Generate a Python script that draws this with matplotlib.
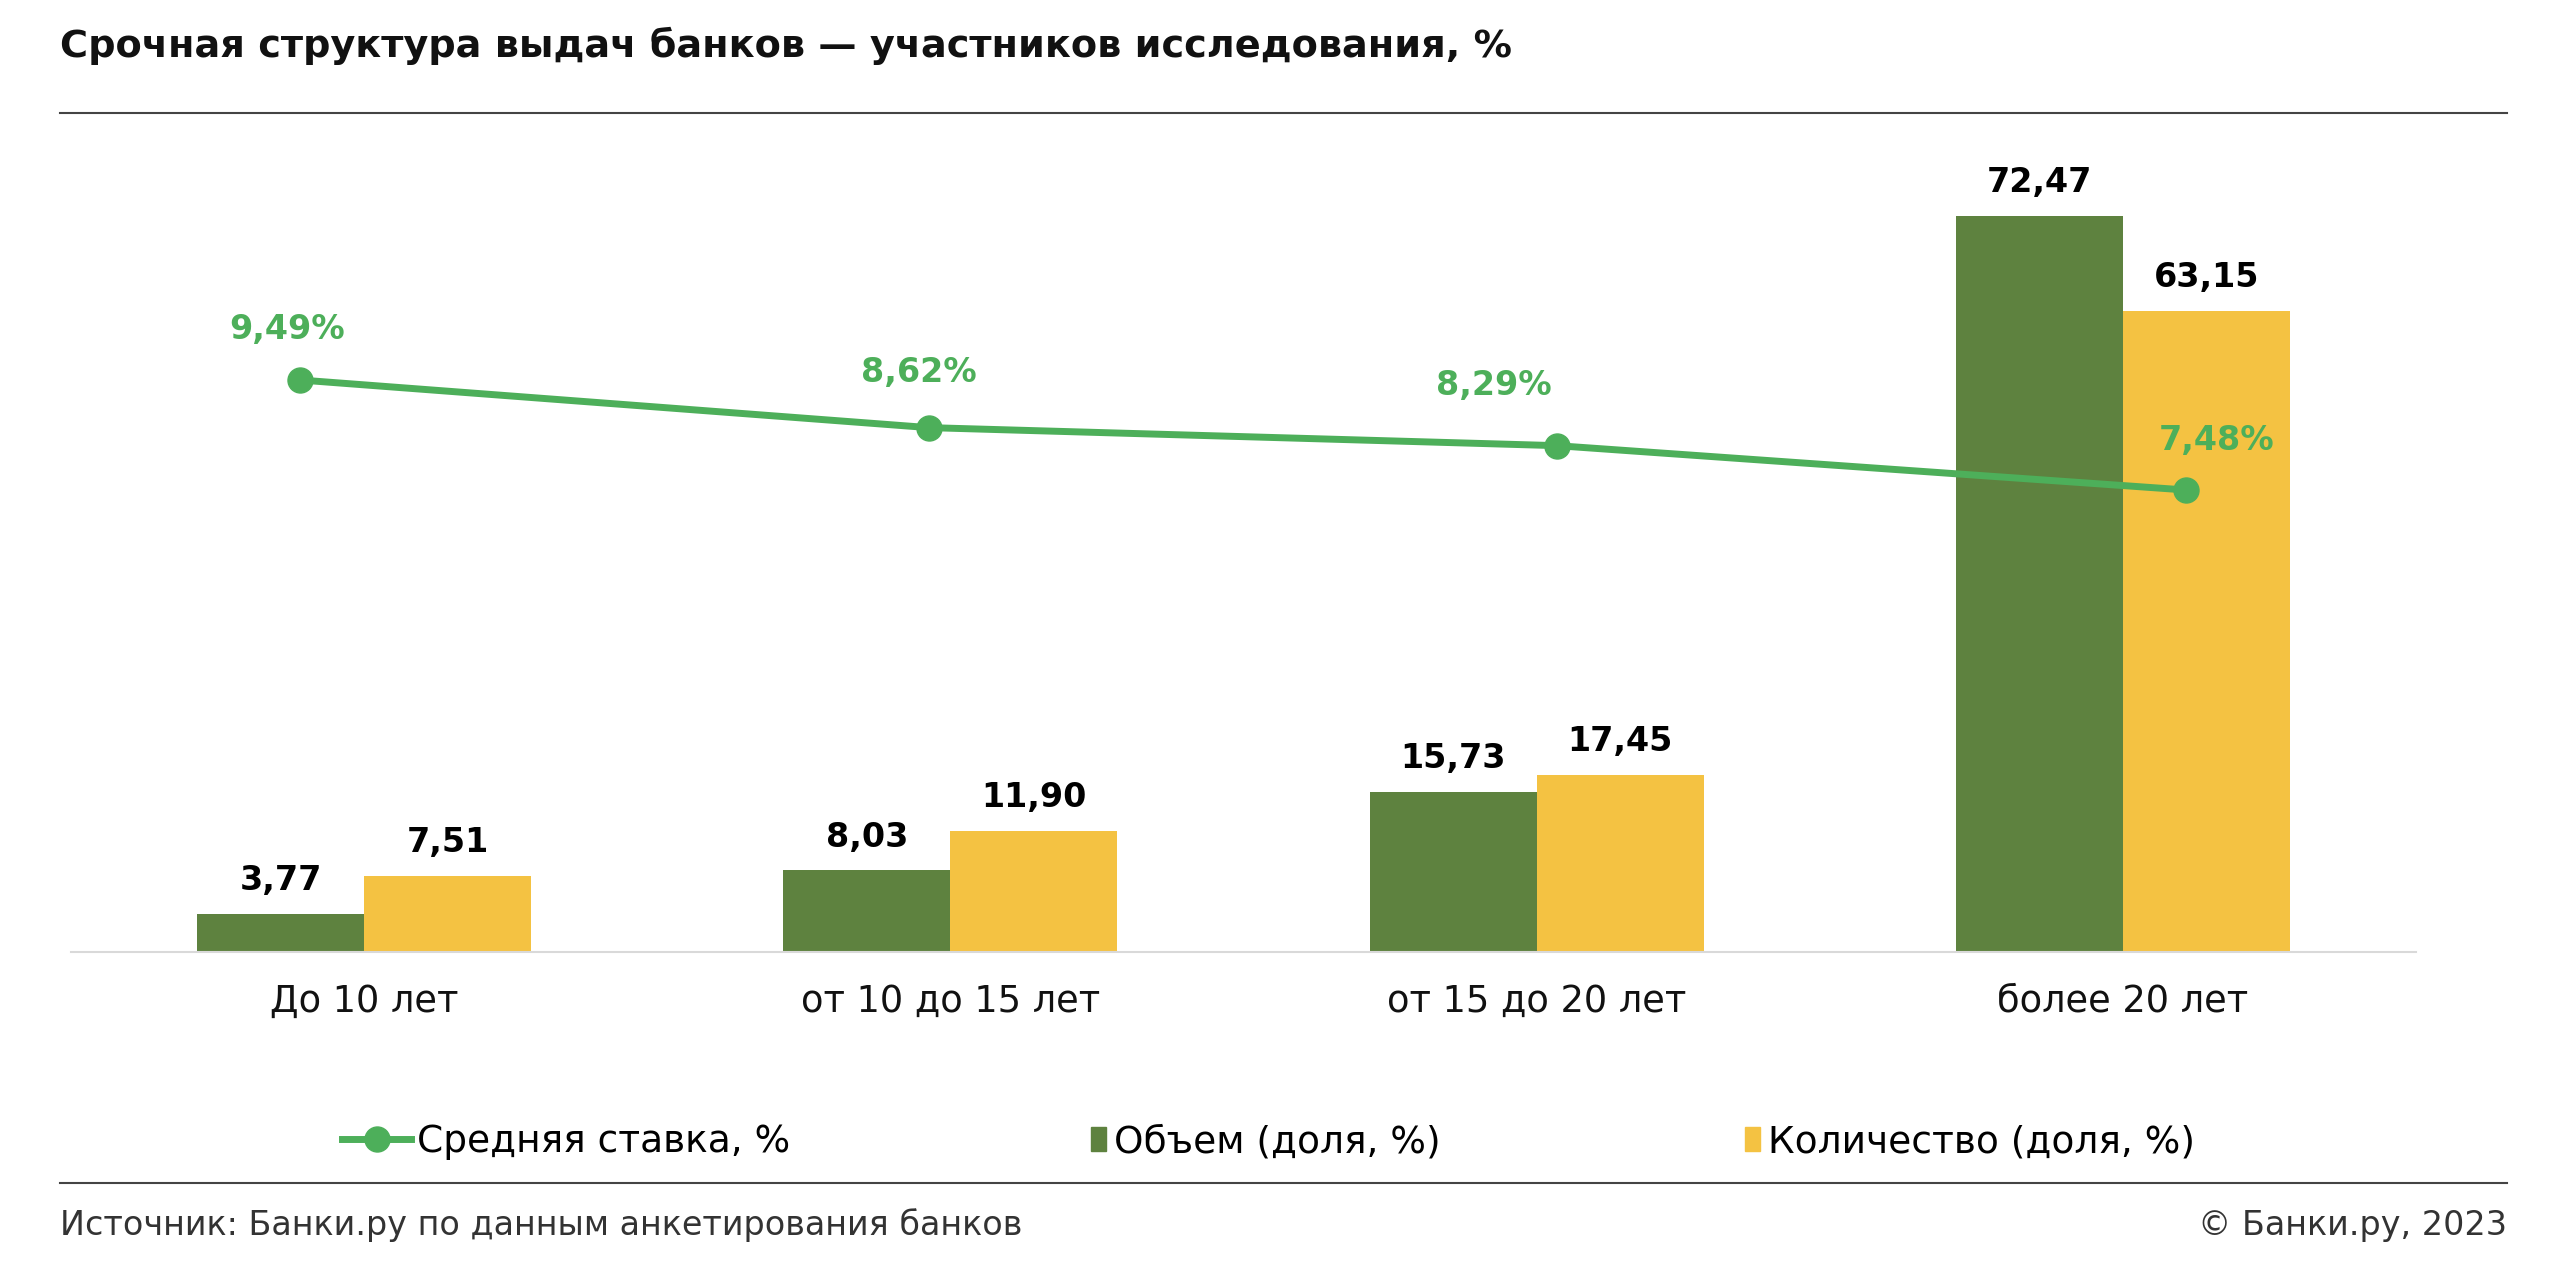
import matplotlib
matplotlib.use('Agg')
import matplotlib.pyplot as plt
from matplotlib.lines import Line2D
from matplotlib.patches import Patch

# Data
categories = ['До 10 лет', 'от 10 до 15 лет', 'от 15 до 20 лет', 'более 20 лет']
volume_share = [3.77, 8.03, 15.73, 72.47]
count_share = [7.51, 11.90, 17.45, 63.15]
avg_rate = [9.49, 8.62, 8.29, 7.48]

title = 'Срочная структура выдач банков — участников исследования, %'
source = 'Источник: Банки.ру по данным анкетирования банков'
copyright_txt = '© Банки.ру, 2023'
legend_labels = ['Средняя ставка, %', 'Объем (доля, %)', 'Количество (доля, %)']

# Colours
GREEN_BAR = '#5E823F'
YELLOW = '#F4C242'
GREEN_LINE = '#4DAF5A'

W, H = 2569, 1275
fig = plt.figure(figsize=(W / 100, H / 100), dpi=100)
plt.rcParams['font.family'] = ['DejaVu Sans']


def fx(px):
    return px / W


def fy(py):
    return 1 - py / H


# Axes rectangle (pixel positions measured on the reference)
ax_left, ax_right, ax_top, ax_bottom = 71, 2416, 150, 952
rect = [fx(ax_left), fy(ax_bottom), fx(ax_right - ax_left), (ax_bottom - ax_top) / H]

ax = fig.add_axes(rect)
bar_w = 0.285
xs = list(range(len(categories)))
ax.bar([x - bar_w / 2 for x in xs], volume_share, width=bar_w, color=GREEN_BAR)
ax.bar([x + bar_w / 2 for x in xs], count_share, width=bar_w, color=YELLOW)
ax.set_xlim(-0.5, 3.5)
ax.set_ylim(0, 78.97)

for x, v in zip(xs, volume_share):
    ax.annotate(f'{v:.2f}'.replace('.', ','), (x - bar_w / 2, v), xytext=(0, 24),
                textcoords='offset points', ha='center', va='center',
                fontsize=24, fontweight='bold', color='black')
for x, v in zip(xs, count_share):
    ax.annotate(f'{v:.2f}'.replace('.', ','), (x + bar_w / 2, v), xytext=(0, 24),
                textcoords='offset points', ha='center', va='center',
                fontsize=24, fontweight='bold', color='black')

ax.set_xticks(xs)
ax.set_xticklabels(categories, fontsize=26.5, color='#111111')
ax.tick_params(axis='x', length=0, pad=22)
ax.set_yticks([])
for s in ['top', 'left', 'right']:
    ax.spines[s].set_visible(False)
ax.spines['bottom'].set_color('#D9D9D9')
ax.spines['bottom'].set_linewidth(1.5)

# Rate line sits on its own (secondary) scale, like the original combo chart
ax2 = fig.add_axes(rect)
ax2.patch.set_visible(False)
ax2.axis('off')
ax2.plot(xs, avg_rate, color=GREEN_LINE, linewidth=5, marker='o', markersize=18,
         solid_capstyle='round')
ax2.set_xlim(-0.364, 3.366)
ax2.set_ylim(-0.961, 13.692)

label_shift = [(-9, 36), (-7, 40), (-46, 43), (22, 36)]
for x, v, (dx, dy) in zip(xs, avg_rate, label_shift):
    ax2.annotate(f'{v:.2f}'.replace('.', ',') + '%', (x, v), xytext=(dx, dy),
                 textcoords='offset points', ha='center', va='center',
                 fontsize=24, fontweight='bold', color=GREEN_LINE)

# Title and separators
fig.text(fx(60), fy(46), title, fontsize=27.5, fontweight='bold', ha='left', va='center',
         color='#111111')
fig.add_artist(Line2D([fx(60), fx(2507)], [fy(113), fy(113)], color='#444444', linewidth=1.5))
fig.add_artist(Line2D([fx(60), fx(2507)], [fy(1183), fy(1183)], color='#444444', linewidth=1.5))

# Legend, one block per item
line_handle = Line2D([], [], color=GREEN_LINE, linewidth=5, marker='o', markersize=18)
leg_items = [
    (line_handle, legend_labels[0], 342, 1.84, 0.16),
    (Patch(color=GREEN_BAR), legend_labels[1], 1091, 0.4, 0.2),
    (Patch(color=YELLOW), legend_labels[2], 1745, 0.4, 0.2),
]
for handle, label, left, hl, pad in leg_items:
    fig.legend([handle], [label], loc='center left', bbox_to_anchor=(fx(left), fy(1142)),
               frameon=False, fontsize=27, handlelength=hl, handleheight=0.6,
               handletextpad=pad, borderpad=0, borderaxespad=0)

# Footer
fig.text(fx(60), fy(1225), source, fontsize=24, ha='left', va='center', color='#333333')
fig.text(fx(2507), fy(1225), copyright_txt, fontsize=24, ha='right', va='center', color='#333333')

fig.savefig('out.png', dpi=100)
